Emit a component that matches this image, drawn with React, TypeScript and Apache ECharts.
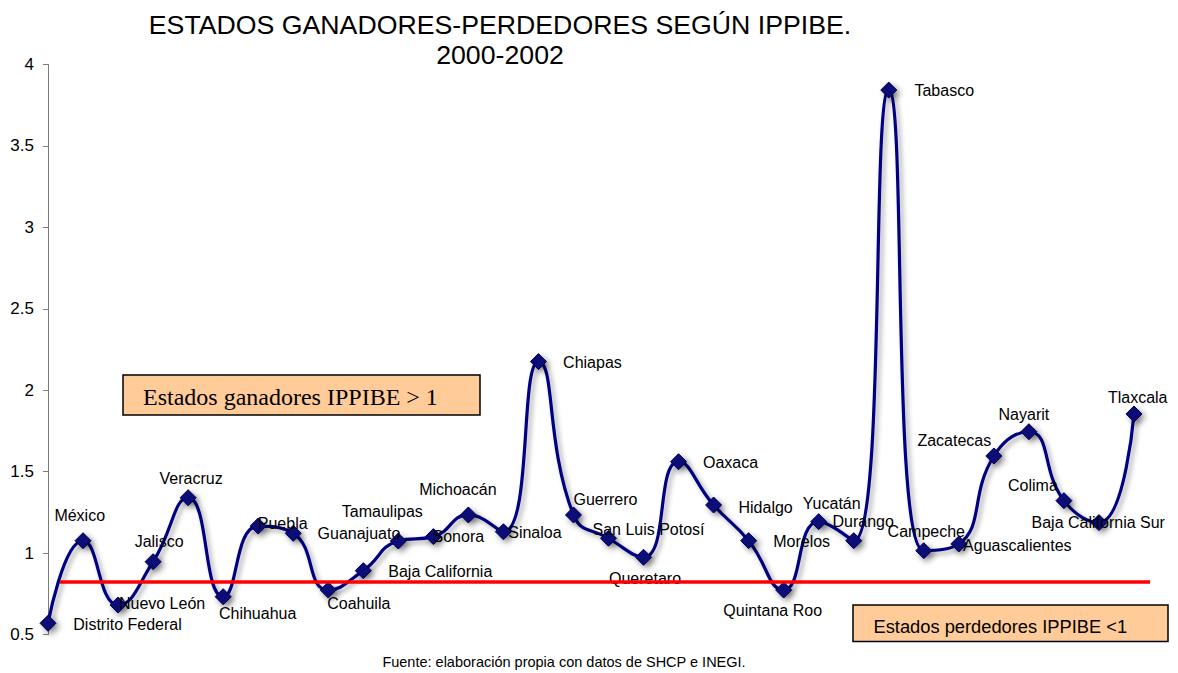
import React, { useEffect, useRef } from "react";
import * as echarts from "echarts";

const STATES = [
  "Distrito Federal", "México", "Nuevo León", "Jalisco", "Veracruz", "Chihuahua",
  "Puebla", "Guanajuato", "Coahuila", "Baja California", "Tamaulipas", "Sonora",
  "Michoacán", "Sinaloa", "Chiapas", "Guerrero", "San Luis Potosí", "Queretaro",
  "Oaxaca", "Hidalgo", "Morelos", "Quintana Roo", "Yucatán", "Durango",
  "Tabasco", "Campeche", "Aguascalientes", "Zacatecas", "Nayarit", "Colima",
  "Baja California Sur", "Tlaxcala",
];

const IPPIBE = [
  0.569, 1.076, 0.681, 0.947, 1.34, 0.732,
  1.166, 1.121, 0.773, 0.892, 1.074, 1.101,
  1.234, 1.131, 2.176, 1.234, 1.091, 0.974,
  1.561, 1.295, 1.076, 0.773, 1.193, 1.076,
  3.843, 1.015, 1.056, 1.596, 1.745, 1.322,
  1.187, 1.854,
];

const THRESHOLD = 0.824;
const THRESHOLD_SPAN = [0.343, 31.46];

const Y_MIN = 0.5;
const Y_MAX = 4;
const Y_STEP = 0.5;

const TITLE_LINES = ["ESTADOS GANADORES-PERDEDORES SEGÚN IPPIBE.", "2000-2002"];
const BOX_WIN = "Estados ganadores IPPIBE > 1";
const BOX_LOSE = "Estados perdedores IPPIBE <1";
const SOURCE = "Fuente: elaboración propia con datos de SHCP e INEGI.";

// label placement (offset of label centre from the marker), layout only
const LABEL_OFFSETS: [number, number][] = [
  [79.5, 1.7], [-3.3, -25], [44, -2], [6, -20], [3, -19], [34.5, 17],
  [24.5, -3], [65.7, 0], [30.5, 13.3], [77, 1], [-16, -30], [25, 0],
  [-10.5, -25.7], [31.5, 0.6], [54, 1], [32, -15.7], [40, -9], [1.5, 21],
  [52, 1], [52, 2.7], [53, 1], [-11, 20.7], [13, -17.7], [9.5, -19],
  [55.5, 0.7], [2.5, -19], [58.5, 1.7], [-39.5, -15.3], [-5, -17.4], [-31, -14.7],
  [-0.7, 0], [3.7, -16.7],
];

const SANS = "'Liberation Sans', Arial, sans-serif";
const SERIF = "'Liberation Serif', 'Times New Roman', serif";

export default function App() {
  const ref = useRef<HTMLDivElement>(null);

  useEffect(() => {
    if (!ref.current) return;
    const chart = echarts.init(ref.current, undefined, { renderer: "svg" });

    const seriesData = IPPIBE.map((v, i) => ({
      value: [i, v],
      name: STATES[i],
      label: { offset: LABEL_OFFSETS[i] },
    }));

    chart.setOption({
      animation: false,
      backgroundColor: "#ffffff",
      grid: { left: 48, right: 26.5, top: 64.5, bottom: 38.5 },
      xAxis: {
        type: "value",
        min: 0,
        max: 31.5,
        show: false,
        splitLine: { show: false },
      },
      yAxis: {
        type: "value",
        min: Y_MIN,
        max: Y_MAX,
        interval: Y_STEP,
        axisLine: { show: true, lineStyle: { color: "#7a7a7a", width: 1 } },
        axisTick: { show: true, length: 5, lineStyle: { color: "#7a7a7a" } },
        splitLine: { show: false },
        axisLabel: {
          color: "#000",
          fontSize: 17,
          fontFamily: SANS,
          margin: 14,
        },
      },
      series: [
        {
          type: "line",
          data: seriesData,
          smooth: 0.5,
          symbol: "diamond",
          symbolSize: 16,
          lineStyle: {
            color: "#000080",
            width: 3.2,
            shadowColor: "rgba(0,0,0,0.35)",
            shadowBlur: 5,
            shadowOffsetX: 3,
            shadowOffsetY: 3,
          },
          itemStyle: {
            color: "#0a0a78",
            borderColor: "#000050",
            borderWidth: 1,
            shadowColor: "rgba(0,0,0,0.45)",
            shadowBlur: 6,
            shadowOffsetX: 3,
            shadowOffsetY: 3,
          },
          label: {
            show: true,
            position: "inside",
            formatter: (p: any) => p.name,
            color: "#000",
            fontSize: 16,
            fontFamily: SANS,
          },
          markLine: {
            silent: true,
            symbol: "none",
            label: { show: false },
            z: 10,
            lineStyle: {
              color: "#ff0000",
              width: 3.5,
              type: "solid",
              shadowBlur: 0,
              shadowOffsetX: 0,
              shadowOffsetY: 0,
            },
            data: [
              [
                { coord: [THRESHOLD_SPAN[0], THRESHOLD] },
                { coord: [THRESHOLD_SPAN[1], THRESHOLD] },
              ],
            ],
          },
          z: 3,
        },
      ],
      graphic: [
        {
          type: "text",
          x: 500,
          y: 25,
          style: {
            text: TITLE_LINES[0],
            align: "center",
            verticalAlign: "middle",
            fontSize: 26.7,
            fontFamily: SANS,
            fill: "#000",
          },
        },
        {
          type: "text",
          x: 500,
          y: 55,
          style: {
            text: TITLE_LINES[1],
            align: "center",
            verticalAlign: "middle",
            fontSize: 26.7,
            fontFamily: SANS,
            fill: "#000",
          },
        },
        {
          type: "group",
          x: 123,
          y: 375,
          children: [
            {
              type: "rect",
              shape: { x: 0, y: 0, width: 357, height: 40 },
              style: { fill: "#FFCC99", stroke: "#000", lineWidth: 1.5 },
            },
            {
              type: "text",
              x: 20,
              y: 22,
              style: {
                text: BOX_WIN,
                align: "left",
                verticalAlign: "middle",
                fontSize: 24,
                fontFamily: SERIF,
                fill: "#000",
              },
            },
          ],
        },
        {
          type: "group",
          x: 853,
          y: 605,
          children: [
            {
              type: "rect",
              shape: { x: 0, y: 0, width: 315, height: 36.5 },
              style: { fill: "#FFCC99", stroke: "#000", lineWidth: 1.5 },
            },
            {
              type: "text",
              x: 20.5,
              y: 21.5,
              style: {
                text: BOX_LOSE,
                align: "left",
                verticalAlign: "middle",
                fontSize: 18.3,
                fontFamily: SANS,
                fill: "#000",
              },
            },
          ],
        },
        {
          type: "text",
          x: 564,
          y: 661.5,
          style: {
            text: SOURCE,
            align: "center",
            verticalAlign: "middle",
            fontSize: 14.5,
            fontFamily: SANS,
            fill: "#000",
          },
        },
      ],
    });

    return () => chart.dispose();
  }, []);

  return (
    <div
      ref={ref}
      style={{ position: "fixed", left: 0, top: 0, width: 1178, height: 673, background: "#fff" }}
    />
  );
}
